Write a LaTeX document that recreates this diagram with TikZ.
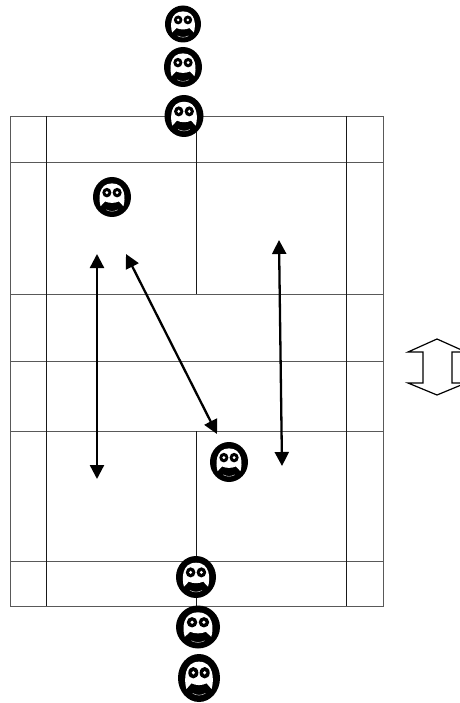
\documentclass[tikz,border=0pt]{standalone}
\usetikzlibrary{arrows.meta}
\tikzset{
  courtline/.style = {draw = black!65, line width = 0.7pt},
  netline/.style = {draw = black!90, line width = 0.8pt},
  moveline/.style = {{Triangle[length=14pt,width=14pt]}-{Triangle[length=14pt,width=14pt]}, line width = 2.3pt},
  player/.pic = {
    \fill [black](0,0) circle (1);
    \fill [white](-0.6,0.46) .. controls (-0.72,0.1) and (-0.72,-0.68) .. (0,-0.68) .. controls (0.72,-0.68) and (0.72,0.1) .. (0.6,0.46)--(0.36,0.22) .. controls (0.15,0.32) and (-0.15,0.32) .. (-0.36,0.22)--cycle;
    \draw [white, line width = 0.35pt](-0.3,0.64) .. controls (-0.1,0.74) and (0.1,0.74) .. (0.3,0.64);
    \fill [black](-0.27,-0.22) circle (0.24);
    \fill [black](0.27,-0.22) circle (0.24);
    \fill [white](-0.27,-0.22) circle (0.08);
    \fill [white](0.27,-0.22) circle (0.08);
  }
}
\begin{document}
\begin{tikzpicture}[x = 1pt, y = -1pt]
  \useasboundingbox (0,0) rectangle (459,703);
  % court
  \draw [courtline](10,116) rectangle (383,606);
  \foreach \y in {162,294,361,431,561}
    \draw [courtline](10,\y)--(383,\y);
  \draw [netline](46,116)--(46,606);
  \draw [netline](346,116)--(346,606);
  \draw [netline](196,116)--(196,294);
  \draw [netline](196,431)--(196,606);
  % players
  \pic (top1) [xscale = 18, yscale = 18.5] at (183,24) {player};
  \pic (top2) [xscale = 19, yscale = 20] at (183,67) {player};
  \pic (top3) [xscale = 19.5, yscale = 21] at (184,116) {player};
  \pic (back) [xscale = 19, yscale = 20] at (112,197) {player};
  \pic (front) [xscale = 19, yscale = 20] at (229,462) {player};
  \pic (low1) [xscale = 20, yscale = 21] at (196,577) {player};
  \pic (low2) [xscale = 22, yscale = 21.5] at (198,627) {player};
  \pic (low3) [xscale = 21, yscale = 24] at (199,678) {player};
  % moves
  \coordinate (a1) at (97,254);
  \coordinate (a2) at (97,479);
  \coordinate (b1) at (126,254);
  \coordinate (b2) at (217,434);
  \coordinate (c1) at (279,240);
  \coordinate (c2) at (282,466);
  \draw [moveline](a1)--(a2);
  \draw [moveline](b1)--(b2);
  \draw [moveline](c1)--(c2);
  % hollow arrow
  \draw [line width = 1.2pt](408,352)--(437,339)--(466,352)--(452,352)--(452,383)--(466,383)--(437,395)--(408,383)--(423,383)--(423,352)--cycle;
\end{tikzpicture}
\end{document}
